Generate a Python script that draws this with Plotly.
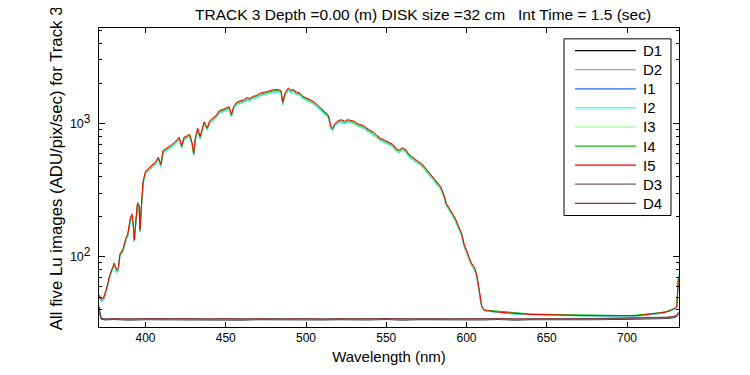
import math
import plotly.graph_objects as go

# ---------------- data ----------------
wavelength = [
    371, 372.5, 374, 376, 377.5, 379, 380.5, 382, 383, 384,
    386, 387.5, 389, 390.5, 391.5, 392.5, 393, 394, 395, 396,
    396.5, 397.5, 398.5, 400, 402, 404, 406, 408, 409.5, 411,
    413, 416, 418, 420, 421, 422.5, 424, 426, 427.5, 429,
    430, 431, 432.5, 434, 435, 436.5, 438.5, 440, 442, 444,
    446, 448, 450, 452, 453.5, 455, 457, 459, 461, 463,
    465, 467, 469, 471, 474, 477, 480, 483, 484.5, 485.5,
    487, 489, 490.5, 492, 494, 496, 498, 500, 502, 504,
    506, 508, 510, 512, 514, 515.5, 516.5, 518, 520, 522,
    524, 526, 528, 530, 532, 534, 536, 538, 540, 542,
    544, 546, 548, 550, 552, 554, 556, 558, 560, 562,
    564, 566, 568, 570, 572, 574, 576, 578, 580, 582,
    584, 586, 587.5, 589, 591, 593, 595, 597, 598.5, 600,
    601.5, 603, 604.5, 605.5, 606.5, 607.5, 608.5, 609.5, 611, 613,
    616, 620, 625, 630, 635, 640, 645, 650, 655, 660,
    665, 670, 675, 680, 685, 690, 695, 700, 705, 710,
    715, 720, 724, 727, 729, 731, 732,
]

I5 = [
    52, 48, 50, 60, 72, 82, 90, 80, 82, 105,
    115, 135, 150, 195, 210, 170, 135, 190, 255, 245,
    160, 250, 370, 440, 460, 490, 510, 560, 495, 630,
    650, 690, 720, 760, 790, 680, 790, 810, 830, 720,
    600, 780, 920, 800, 900, 1030, 930, 1050, 1100, 1150,
    1250, 1270, 1300, 1340, 1170, 1350, 1450, 1480, 1500, 1560,
    1540, 1600, 1620, 1680, 1720, 1760, 1790, 1800, 1750, 1450,
    1700, 1850, 1780, 1800, 1720, 1700, 1600, 1560, 1520, 1480,
    1420, 1350, 1280, 1230, 1150, 950, 920, 1000, 1050, 1070,
    1040, 1070, 1060, 1040, 1000, 980, 960, 920, 890, 860,
    820, 780, 760, 740, 720, 700, 650, 630, 660, 640,
    590, 560, 540, 520, 500, 470, 440, 410, 390, 360,
    335, 290, 250, 235, 215, 195, 170, 150, 125, 112,
    100, 90, 85, 80, 72, 62, 50, 43, 40, 39.5,
    39, 38.5, 38, 37.5, 37.3, 37, 37, 36.8, 36.8, 36.5,
    36.5, 36.4, 36.3, 36.3, 36.2, 36.2, 36, 36, 36.2, 36.6,
    37.2, 37.8, 38.5, 39.5, 40.5, 42, 68,
]

I4 = [
    51, 48, 49, 59, 71, 81, 89, 79, 81, 103,
    113, 133, 148, 192, 207, 167, 133, 187, 251, 241,
    158, 246, 364, 433, 453, 483, 502, 552, 488, 621,
    640, 680, 709, 749, 778, 670, 778, 798, 818, 709,
    591, 768, 906, 788, 887, 1015, 916, 1034, 1084, 1133,
    1231, 1251, 1281, 1320, 1152, 1330, 1428, 1458, 1478, 1537,
    1517, 1576, 1596, 1655, 1694, 1734, 1763, 1773, 1724, 1428,
    1675, 1822, 1753, 1773, 1694, 1675, 1576, 1537, 1497, 1458,
    1399, 1330, 1261, 1212, 1133, 936, 906, 985, 1034, 1054,
    1024, 1054, 1044, 1024, 985, 965, 946, 906, 877, 847,
    808, 768, 749, 729, 709, 690, 640, 621, 650, 630,
    581, 552, 532, 512, 493, 463, 433, 404, 384, 355,
    330, 286, 246, 231, 212, 192, 167, 148, 123, 110,
    99, 89, 84, 79, 71, 61, 49, 42.5, 40, 39.8,
    39.3, 38.8, 38.3, 37.8, 37.6, 37.3, 37.2, 37, 37.1, 36.8,
    36.8, 36.7, 36.6, 36.5, 36.5, 36.4, 36.3, 36.3, 36.5, 36.9,
    37.5, 38.1, 38.8, 39.8, 40.8, 42.5, 70,
]

I3 = [
    51, 47, 49, 58, 70, 80, 87, 78, 80, 102,
    112, 131, 146, 190, 204, 165, 131, 185, 248, 238,
    156, 243, 360, 428, 447, 476, 496, 544, 481, 612,
    632, 671, 700, 739, 768, 661, 768, 787, 807, 700,
    583, 758, 894, 778, 875, 1001, 904, 1021, 1069, 1118,
    1215, 1234, 1264, 1302, 1137, 1312, 1409, 1439, 1458, 1516,
    1497, 1555, 1575, 1633, 1672, 1711, 1740, 1750, 1701, 1409,
    1652, 1798, 1730, 1750, 1672, 1652, 1555, 1516, 1477, 1439,
    1380, 1312, 1244, 1196, 1118, 923, 894, 972, 1021, 1040,
    1011, 1040, 1030, 1011, 972, 953, 933, 894, 865, 836,
    797, 758, 739, 719, 700, 680, 632, 612, 642, 622,
    573, 544, 525, 505, 486, 457, 428, 399, 379, 350,
    326, 282, 243, 228, 209, 190, 165, 146, 122, 109,
    97, 87, 83, 78, 70, 60, 49, 42, 39.8, 39.6,
    39.1, 38.7, 38.2, 37.7, 37.5, 37.2, 37.1, 37, 36.9, 36.7,
    36.7, 36.6, 36.5, 36.4, 36.4, 36.3, 36.2, 36.2, 36.4, 36.8,
    37.4, 38, 38.7, 39.7, 40.7, 42.3, 71,
]

I1 = [
    50, 46, 48, 58, 69, 79, 87, 77, 79, 101,
    111, 130, 144, 188, 202, 164, 130, 183, 245, 236,
    154, 241, 356, 423, 443, 471, 491, 539, 476, 606,
    625, 664, 693, 731, 760, 654, 760, 779, 798, 693,
    577, 750, 885, 770, 866, 991, 895, 1010, 1058, 1106,
    1203, 1222, 1251, 1289, 1126, 1299, 1395, 1424, 1443, 1501,
    1481, 1539, 1558, 1616, 1655, 1693, 1722, 1732, 1684, 1395,
    1635, 1780, 1712, 1732, 1655, 1635, 1539, 1501, 1462, 1424,
    1366, 1299, 1231, 1183, 1106, 914, 885, 962, 1010, 1029,
    1000, 1029, 1020, 1000, 962, 943, 924, 885, 856, 827,
    789, 750, 731, 712, 693, 673, 625, 606, 635, 616,
    568, 539, 519, 500, 481, 452, 423, 394, 375, 346,
    322, 279, 241, 226, 207, 188, 164, 144, 120, 108,
    96, 87, 82, 77, 69, 60, 48, 42, 39.5, 39.2,
    38.8, 38.3, 37.8, 37.3, 37.1, 36.8, 36.8, 36.6, 36.6, 36.3,
    36.3, 36.2, 36.1, 36.1, 36, 36, 35.8, 35.8, 36, 36.4,
    37, 37.6, 38.3, 39.3, 40.3, 41.8, 66,
]

I2 = [
    50, 46, 48, 57, 69, 78, 86, 76, 78, 100,
    110, 129, 143, 186, 200, 162, 129, 181, 243, 234,
    153, 239, 353, 420, 439, 468, 487, 535, 473, 602,
    621, 659, 688, 726, 754, 649, 754, 774, 793, 688,
    573, 745, 879, 764, 860, 984, 888, 1003, 1051, 1098,
    1194, 1213, 1242, 1280, 1117, 1289, 1385, 1413, 1433, 1490,
    1471, 1528, 1547, 1604, 1643, 1681, 1709, 1719, 1671, 1385,
    1624, 1767, 1700, 1719, 1643, 1624, 1528, 1490, 1452, 1413,
    1356, 1289, 1222, 1175, 1098, 907, 879, 955, 1003, 1022,
    993, 1022, 1012, 993, 955, 936, 917, 879, 850, 821,
    783, 745, 726, 707, 688, 669, 621, 602, 630, 611,
    563, 535, 516, 497, 478, 449, 420, 392, 372, 344,
    320, 277, 239, 224, 205, 186, 162, 143, 119, 107,
    96, 86, 81, 76, 69, 59, 48, 41.5, 39.3, 39,
    38.7, 38.2, 37.7, 37.2, 37, 36.7, 36.7, 36.5, 36.5, 36.2,
    36.2, 36.1, 36, 36, 35.9, 35.9, 35.7, 35.7, 35.9, 36.3,
    36.9, 37.5, 38.2, 39.2, 40.2, 41.6, 74,
]

wavelength_dark = [
    371, 371.5, 372.5, 375, 380,
    390, 400, 410, 420, 430,
    440, 450, 460, 470, 480,
    490, 500, 510, 520, 530,
    540, 550, 560, 570, 580,
    590, 600, 610, 620, 630,
    640, 650, 660, 670, 680,
    690, 700, 710, 720, 725,
    729, 731, 732,
]

D1 = [
    41, 37, 34.0, 33.7, 33.9,
    33.6, 33.8, 33.7, 33.9, 33.6,
    33.8, 33.7, 33.6, 33.8, 33.7,
    33.9, 33.6, 33.7, 33.8, 33.6,
    33.7, 33.9, 33.6, 33.8, 33.7,
    33.6, 33.8, 33.7, 33.9, 33.6,
    33.8, 33.7, 33.9, 33.7, 33.8,
    33.9, 34.0, 34.1, 34.3, 34.5,
    35.0, 35.6, 37,
]
D2 = [
    42, 38, 34.3, 34.0, 34.2,
    33.9, 34.1, 34.0, 34.2, 33.9,
    34.1, 34.0, 33.9, 34.1, 34.0,
    34.2, 33.9, 34.0, 34.1, 33.9,
    34.0, 34.2, 33.9, 34.1, 34.0,
    33.9, 34.1, 34.0, 34.2, 33.9,
    34.1, 34.0, 34.2, 34.0, 34.1,
    34.2, 34.3, 34.4, 34.6, 34.8,
    35.3, 35.9, 37.5,
]
D3 = [
    43, 38.5, 34.6, 34.3, 34.5,
    34.2, 34.4, 34.3, 34.5, 34.2,
    34.4, 34.3, 34.2, 34.4, 34.3,
    34.5, 34.2, 34.3, 34.4, 34.2,
    34.3, 34.5, 34.2, 34.4, 34.3,
    34.2, 34.4, 34.3, 34.5, 34.2,
    34.4, 34.3, 34.5, 34.3, 34.4,
    34.5, 34.6, 34.7, 34.9, 35.1,
    35.6, 36.3, 38,
]
D4 = [
    42.5, 38.2, 34.4, 34.1, 34.3,
    34.4, 34.2, 34.5, 34.3, 34.4,
    34.2, 34.5, 34.3, 34.2, 34.4,
    34.3, 34.4, 34.1, 34.3, 34.4,
    34.2, 34.3, 34.4, 34.2, 34.3,
    34.4, 34.2, 34.3, 34.4, 34.3,
    34.2, 34.4, 34.3, 34.4, 34.5,
    34.6, 34.7, 34.8, 35.0, 35.3,
    35.8, 36.6, 38.5,
]

series_names = ["D1", "D2", "I1", "I2", "I3", "I4", "I5", "D3", "D4"]
series_colors = ["#000000", "#8f8f8f", "#1a72e6", "#33f2f2", "#88ff88",
                 "#11bb11", "#ff0000", "#805c5c", "#7a3a3a"]
series_x = [wavelength_dark, wavelength_dark, wavelength, wavelength, wavelength,
            wavelength, wavelength, wavelength_dark, wavelength_dark]
series_y = [D1, D2, I1, I2, I3, I4, I5, D3, D4]

x_tickvals = [400, 450, 500, 550, 600, 650, 700]
y_tickvals = [100, 1000]
y_ticktext = ["10<sup><span style='font-size:12px'>2</span></sup>",
              "10<sup><span style='font-size:12px'>3</span></sup>"]
y_minorvals = [30, 40, 50, 60, 70, 80, 90, 200, 300, 400, 500, 600, 700, 800, 900,
               2000, 3000, 4000, 5000]

title_text = "TRACK 3 Depth =0.00 (m) DISK size =32 cm\u00a0\u00a0\u00a0Int Time = 1.5 (sec)"
x_title = "Wavelength (nm)"
y_title = "All five Lu images (ADU/pix/sec) for Track 3"

FONT = "Arial, Liberation Sans, sans-serif"

fig = go.Figure()
for name, col, xs, ys in zip(series_names, series_colors, series_x, series_y):
    fig.add_trace(go.Scatter(x=xs, y=ys, mode="lines", name=name,
                             line=dict(color=col, width=1), showlegend=False))

# ---------------- layout ----------------
# the page body has an 8px default margin; compensate so the plot sits where
# it sits in the reference window
OFF = 8
W, H = 750 - OFF, 375 - OFF
PL, PR, PT, PB = 99, 679, 28, 331          # plot area in window pixels
ml, mr, mt = PL - OFF, 750 - PR, PT - OFF
mb = H - mt - (PB - PT)
pw, ph = PR - PL, PB - PT

def px_x(p):
    return (p - PL) / pw

def px_y(p):
    return (PB - p) / ph

fig.update_layout(
    width=W, height=H,
    margin=dict(l=ml, r=mr, t=mt, b=mb, pad=0),
    paper_bgcolor="white", plot_bgcolor="white",
    font=dict(family=FONT, size=12, color="black"),
    showlegend=False,
)

fig.update_xaxes(
    range=[371, 732.4], tickvals=x_tickvals, ticks="inside", ticklen=5,
    tickcolor="black", showline=True, linecolor="black", linewidth=1,
    mirror="ticks", showgrid=False, zeroline=False,
    tickfont=dict(size=12, family=FONT),
    title=dict(text=x_title, font=dict(size=15, family=FONT), standoff=7),
)
fig.update_yaxes(
    type="log", range=[math.log10(29.8), math.log10(5200)],
    tickvals=y_tickvals, ticktext=y_ticktext, ticks="inside", ticklen=6,
    tickcolor="black", showline=True, linecolor="black", linewidth=1,
    mirror="ticks", showgrid=False, zeroline=False,
    tickfont=dict(size=12.5, family=FONT), ticklabelstandoff=5,
    minor=dict(tickvals=y_minorvals, ticks="inside", ticklen=3,
               tickcolor="black", showgrid=False),
)

annotations = [
    dict(text=title_text, xref="paper", yref="paper", x=px_x(193), y=px_y(14),
         xanchor="left", yanchor="middle", showarrow=False,
         font=dict(size=15.5, family=FONT)),
    dict(text=y_title, xref="paper", yref="paper", x=px_x(56), y=px_y(170),
         xanchor="center", yanchor="middle", textangle=-90, showarrow=False,
         font=dict(size=16.8, family=FONT)),
]

# custom legend (box, line samples, labels)
shapes = [dict(type="rect", xref="paper", yref="paper",
               x0=px_x(564), x1=px_x(671), y0=px_y(218), y1=px_y(39),
               line=dict(color="black", width=1), fillcolor="white", layer="above")]
for i, (name, col) in enumerate(zip(series_names, series_colors)):
    yy = 51 + i * 19.33
    shapes.append(dict(type="line", xref="paper", yref="paper",
                       x0=px_x(575), x1=px_x(636), y0=px_y(yy), y1=px_y(yy),
                       line=dict(color=col, width=1.2), layer="above"))
    annotations.append(dict(text=name, xref="paper", yref="paper",
                            x=px_x(641), y=px_y(yy), xanchor="left", yanchor="middle",
                            showarrow=False, font=dict(size=15, family=FONT)))

fig.update_layout(shapes=shapes, annotations=annotations)
fig.write_html("out.html")
